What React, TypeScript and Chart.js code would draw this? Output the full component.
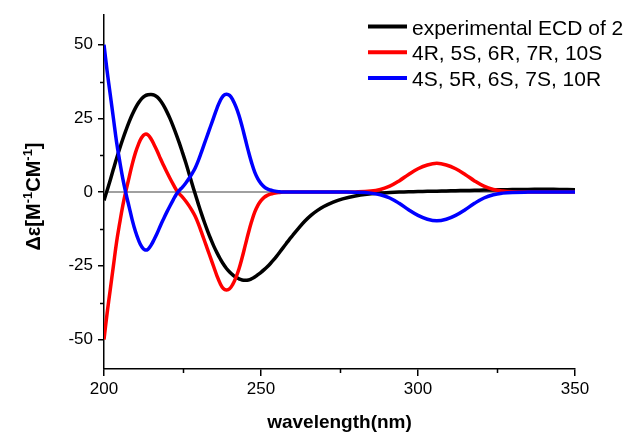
import React, { useEffect, useRef } from "react";
import { Chart, registerables } from "chart.js";

Chart.register(...registerables);

// ---- data ----
const wavelengths = [
  200, 201, 202, 203, 204, 205, 206, 207, 208, 209,
  210, 211, 212, 213, 214, 215, 216, 217, 218, 219,
  220, 221, 222, 223, 224, 225, 226, 227, 228, 229,
  230, 231, 232, 233, 234, 235, 236, 237, 238, 239,
  240, 241, 242, 243, 244, 245, 246, 247, 248, 249,
  250, 251, 252, 253, 254, 255, 256, 257, 258, 259,
  260, 262, 264, 266, 268, 270, 273, 276, 280, 285,
  288, 291, 294, 297, 300, 303, 306, 309, 312, 315,
  318, 321, 324, 327, 330, 335, 340, 345, 350,
];

const experimentalECD = [
  -2.8, 0.6, 4.1, 7.8, 11.4, 14.8, 18, 21, 23.8, 26.3,
  28.5, 30.3, 31.7, 32.6, 33.0, 33.1, 32.9, 32.2, 31, 29.3,
  27.3, 25, 22.4, 19.6, 16.6, 13.4, 10.1, 6.6, 3.0, -0.5,
  -3.9, -7.2, -10.3, -13.2, -15.9, -18.4, -20.6, -22.6, -24.4, -25.9,
  -27.1, -28.1, -28.9, -29.4, -29.8, -29.9, -29.8, -29.4, -28.8, -28,
  -27.2, -26.3, -25.3, -24.2, -23.0, -21.7, -20.3, -18.9, -17.5, -16.1,
  -14.8, -12.2, -9.8, -7.8, -6.2, -4.9, -3.4, -2.3, -1.3, -0.6,
  -0.3, -0.15, 0, 0.1, 0.2, 0.25, 0.3, 0.4, 0.5, 0.55,
  0.6, 0.7, 0.75, 0.8, 0.85, 0.9, 1.0, 0.9, 0.8,
];

const calc4R5S6R7R10S = [
  -50, -41, -33, -25, -17, -10.5, -4.5, 0.5, 5, 9.5,
  13.3, 16.3, 18.5, 19.6, 19.4, 18, 16, 13.8, 11.3, 9,
  6.8, 4.7, 2.7, 0.8, -0.6, -1.7, -3, -4.5, -6.2, -8.1,
  -10.6, -13.5, -16.5, -19.5, -22.5, -25.5, -28.5, -31, -32.7, -33.2,
  -32.8, -31.3, -29, -26, -22.2, -18, -13.8, -10, -6.8, -4.5,
  -2.9, -1.8, -1.1, -0.7, -0.4, -0.2, -0.1, 0, 0, 0,
  0, 0, 0, 0, 0, 0, 0, 0, 0.05, 0.35,
  0.9, 2.0, 3.8, 6.0, 7.9, 9.2, 9.75, 9.2, 7.9, 6.0,
  3.8, 2.0, 0.9, 0.35, 0.1, 0, 0, 0, 0,
];

const calc4S5R6S7S10R = [
  50, 41, 33, 25, 17, 10.5, 4.5, -0.5, -5, -9.5,
  -13.3, -16.3, -18.5, -19.6, -19.4, -18, -16, -13.8, -11.3, -9,
  -6.8, -4.7, -2.7, -0.8, 0.6, 1.7, 3, 4.5, 6.2, 8.1,
  10.6, 13.5, 16.5, 19.5, 22.5, 25.5, 28.5, 31, 32.7, 33.2,
  32.8, 31.3, 29, 26, 22.2, 18, 13.8, 10, 6.8, 4.5,
  2.9, 1.8, 1.1, 0.7, 0.4, 0.2, 0.1, 0, 0, 0,
  0, 0, 0, 0, 0, 0, 0, 0, -0.05, -0.35,
  -0.9, -2.0, -3.8, -6.0, -7.9, -9.2, -9.75, -9.2, -7.9, -6.0,
  -3.8, -2.0, -0.9, -0.35, -0.1, 0, 0, 0, 0,
];

const seriesLabels = [
  "experimental ECD of 2",
  "4R, 5S, 6R, 7R, 10S",
  "4S, 5R, 6S, 7S, 10R",
];
const seriesColors = ["#000000", "#ff0000", "#0000ff"];

const xMajorTicks = [200, 250, 300, 350];
const xMinorTicks = [225, 275, 325];
const yMajorTicks = [-50, -25, 0, 25, 50];
const yMinorTicks = [-37.5, -12.5, 12.5, 37.5];

const xTitle = "wavelength(nm)";
const yTitleParts: [string, boolean][] = [
  ["Δε[M", false],
  ["-1", true],
  ["CM", false],
  ["-1", true],
  ["]", false],
];

const FONT = '"Liberation Sans", Arial, Helvetica, sans-serif';

const toPoints = (ys: number[]) => wavelengths.map((x, i) => ({ x, y: ys[i] }));

const decorPlugin = {
  id: "decor",
  beforeDatasetsDraw(chart: any) {
    const { ctx, chartArea, scales } = chart;
    const y0 = scales.y.getPixelForValue(0);
    ctx.save();
    ctx.strokeStyle = "#808080";
    ctx.lineWidth = 1.5;
    ctx.beginPath();
    ctx.moveTo(chartArea.left, y0);
    ctx.lineTo(chartArea.right, y0);
    ctx.stroke();
    ctx.restore();
  },
  afterDraw(chart: any) {
    const { ctx, chartArea, scales } = chart;
    ctx.save();
    // minor ticks
    ctx.strokeStyle = "#000";
    ctx.lineWidth = 1.5;
    ctx.beginPath();
    yMinorTicks.forEach((v) => {
      const y = Math.round(scales.y.getPixelForValue(v)) + 0.5;
      ctx.moveTo(chartArea.left - 4, y);
      ctx.lineTo(chartArea.left, y);
    });
    xMinorTicks.forEach((v) => {
      const x = Math.round(scales.x.getPixelForValue(v)) + 0.5;
      ctx.moveTo(x, chartArea.bottom);
      ctx.lineTo(x, chartArea.bottom + 4);
    });
    ctx.stroke();

    // x title
    ctx.fillStyle = "#000";
    ctx.font = `bold 19px ${FONT}`;
    ctx.textAlign = "center";
    ctx.textBaseline = "alphabetic";
    ctx.fillText(xTitle, (chartArea.left + chartArea.right) / 2, 428);

    // y title with superscripts
    const mainFont = `bold 20px ${FONT}`;
    const supFont = `bold 13px ${FONT}`;
    let total = 0;
    yTitleParts.forEach(([t, sup]) => {
      ctx.font = sup ? supFont : mainFont;
      total += ctx.measureText(t).width;
    });
    ctx.translate(39.5, 196.5);
    ctx.rotate(-Math.PI / 2);
    ctx.textAlign = "left";
    let cx = -total / 2;
    yTitleParts.forEach(([t, sup]) => {
      ctx.font = sup ? supFont : mainFont;
      ctx.fillText(t, cx, sup ? -7.5 : 0);
      cx += ctx.measureText(t).width;
    });
    ctx.setTransform(1, 0, 0, 1, 0, 0);

    // legend
    const lineX0 = 368;
    const lineX1 = 407;
    const textX = 412;
    ctx.font = `21px ${FONT}`;
    ctx.textAlign = "left";
    ctx.textBaseline = "alphabetic";
    seriesLabels.forEach((label, i) => {
      const y = 26.5 + i * 25.8;
      ctx.strokeStyle = seriesColors[i];
      ctx.lineWidth = 4;
      ctx.beginPath();
      ctx.moveTo(lineX0, y);
      ctx.lineTo(lineX1, y);
      ctx.stroke();
      ctx.fillStyle = "#000";
      ctx.fillText(label, textX, y + 8);
    });
    ctx.restore();
  },
};

export default function App() {
  const canvasRef = useRef<HTMLCanvasElement | null>(null);

  useEffect(() => {
    const canvas = canvasRef.current;
    if (!canvas) return;
    const seriesData = [experimentalECD, calc4R5S6R7R10S, calc4S5R6S7S10R];
    const chart = new Chart(canvas, {
      type: "line",
      data: {
        datasets: seriesData.map((ys, i) => ({
          label: seriesLabels[i],
          data: toPoints(ys),
          borderColor: seriesColors[i],
          backgroundColor: seriesColors[i],
          borderWidth: 3.5,
          pointRadius: 0,
          fill: false,
          tension: 0.4,
          order: 3 - i,
        })),
      },
      options: {
        responsive: false,
        animation: false,
        devicePixelRatio: 1,
        layout: { padding: { left: 0, top: 12, right: 52, bottom: 0 } },
        plugins: {
          legend: { display: false },
          tooltip: { enabled: false },
          title: { display: false },
        },
        scales: {
          x: {
            type: "linear",
            min: 200,
            max: 350,
            afterBuildTicks: (s: any) => {
              s.ticks = xMajorTicks.map((v) => ({ value: v }));
            },
            afterFit: (s: any) => {
              s.height = 66;
            },
            grid: {
              display: true,
              drawOnChartArea: false,
              drawTicks: true,
              tickLength: 7,
              color: "#000",
              lineWidth: 1.5,
            },
            border: { display: true, color: "#000", width: 1.5 },
            ticks: {
              font: { family: FONT, size: 17 },
              color: "#000",
              padding: 3,
              maxRotation: 0,
              autoSkip: false,
            },
          },
          y: {
            type: "linear",
            min: -60,
            max: 60,
            afterBuildTicks: (s: any) => {
              s.ticks = yMajorTicks.map((v) => ({ value: v }));
            },
            afterFit: (s: any) => {
              s.width = 104;
            },
            grid: {
              display: true,
              drawOnChartArea: false,
              drawTicks: true,
              tickLength: 6,
              color: "#000",
              lineWidth: 1.5,
            },
            border: { display: true, color: "#000", width: 1.5 },
            ticks: {
              font: { family: FONT, size: 17 },
              color: "#000",
              padding: 5,
              autoSkip: false,
            },
          },
        },
      },
      plugins: [decorPlugin],
    });
    return () => chart.destroy();
  }, []);

  return (
    <div
      style={{
        position: "fixed",
        left: 0,
        top: 0,
        width: 627,
        height: 435,
        background: "#fff",
      }}
    >
      <canvas ref={canvasRef} width={627} height={435} style={{ display: "block" }} />
    </div>
  );
}
